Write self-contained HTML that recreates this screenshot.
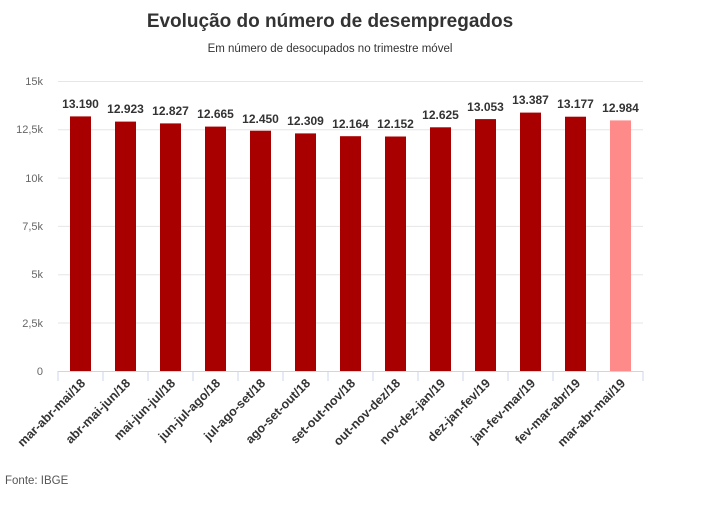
<!DOCTYPE html>
<html><head><meta charset="utf-8"><style>
body{margin:0;background:#fff;width:702px;height:506px;overflow:hidden;font-family:"Liberation Sans","DejaVu Sans",sans-serif}
</style></head><body>
<svg width="702" height="506" xmlns="http://www.w3.org/2000/svg" font-family="Liberation Sans, DejaVu Sans, sans-serif">
<text x="330" y="27" text-anchor="middle" font-size="19" font-weight="bold" fill="#333">Evolução do número de desempregados</text>
<text x="330" y="52" text-anchor="middle" font-size="11.5" fill="#333">Em número de desocupados no trimestre móvel</text>
<g stroke="#e6e6e6" stroke-width="1">
<line x1="58" x2="643" y1="81.5" y2="81.5"/><line x1="58" x2="643" y1="129.8" y2="129.8"/>
<line x1="58" x2="643" y1="178.1" y2="178.1"/><line x1="58" x2="643" y1="226.4" y2="226.4"/>
<line x1="58" x2="643" y1="274.7" y2="274.7"/><line x1="58" x2="643" y1="323" y2="323"/>
</g>
<g font-size="11" fill="#666" text-anchor="end">
<text x="43" y="85">15k</text><text x="43" y="133">12,5k</text><text x="43" y="182">10k</text>
<text x="43" y="230">7,5k</text><text x="43" y="278">5k</text><text x="43" y="327">2,5k</text><text x="43" y="375">0</text>
</g>
<g fill="#a80000">
<rect x="70" y="116.4" width="21" height="254.6"/>
<rect x="115" y="121.6" width="21" height="249.4"/>
<rect x="160" y="123.4" width="21" height="247.6"/>
<rect x="205" y="126.6" width="21" height="244.4"/>
<rect x="250" y="130.7" width="21" height="240.3"/>
<rect x="295" y="133.4" width="21" height="237.6"/>
<rect x="340" y="136.2" width="21" height="234.8"/>
<rect x="385" y="136.5" width="21" height="234.5"/>
<rect x="430" y="127.3" width="21" height="243.7"/>
<rect x="475" y="119.1" width="21" height="251.9"/>
<rect x="520" y="112.6" width="21" height="258.4"/>
<rect x="565" y="116.7" width="21" height="254.3"/>
<rect x="610" y="120.4" width="21" height="250.6" fill="#ff8a8a"/>
</g>
<g font-size="12" font-weight="bold" fill="#333" text-anchor="middle">
<text x="80.5" y="108">13.190</text>
<text x="125.5" y="113">12.923</text>
<text x="170.5" y="115">12.827</text>
<text x="215.5" y="118">12.665</text>
<text x="260.5" y="123">12.450</text>
<text x="305.5" y="125">12.309</text>
<text x="350.5" y="128">12.164</text>
<text x="395.5" y="128">12.152</text>
<text x="440.5" y="119">12.625</text>
<text x="485.5" y="111">13.053</text>
<text x="530.5" y="104">13.387</text>
<text x="575.5" y="108">13.177</text>
<text x="620.5" y="112">12.984</text>
</g>
<line x1="58" x2="643" y1="371.5" y2="371.5" stroke="#ccd6eb"/>
<g stroke="#ccd6eb">
<line x1="58" x2="58" y1="371" y2="381"/><line x1="103" x2="103" y1="371" y2="381"/><line x1="148" x2="148" y1="371" y2="381"/><line x1="193" x2="193" y1="371" y2="381"/><line x1="238" x2="238" y1="371" y2="381"/><line x1="283" x2="283" y1="371" y2="381"/><line x1="328" x2="328" y1="371" y2="381"/><line x1="373" x2="373" y1="371" y2="381"/><line x1="418" x2="418" y1="371" y2="381"/><line x1="463" x2="463" y1="371" y2="381"/><line x1="508" x2="508" y1="371" y2="381"/><line x1="553" x2="553" y1="371" y2="381"/><line x1="598" x2="598" y1="371" y2="381"/><line x1="643" x2="643" y1="371" y2="381"/>
</g>
<g font-size="12.5" font-weight="bold" fill="#333" text-anchor="end">
<text transform="translate(86,384) rotate(-45)">mar-abr-mai/18</text>
<text transform="translate(131,384) rotate(-45)">abr-mai-jun/18</text>
<text transform="translate(176,384) rotate(-45)">mai-jun-jul/18</text>
<text transform="translate(221,384) rotate(-45)">jun-jul-ago/18</text>
<text transform="translate(266,384) rotate(-45)">jul-ago-set/18</text>
<text transform="translate(311,384) rotate(-45)">ago-set-out/18</text>
<text transform="translate(356,384) rotate(-45)">set-out-nov/18</text>
<text transform="translate(401,384) rotate(-45)">out-nov-dez/18</text>
<text transform="translate(446,384) rotate(-45)">nov-dez-jan/19</text>
<text transform="translate(491,384) rotate(-45)">dez-jan-fev/19</text>
<text transform="translate(536,384) rotate(-45)">jan-fev-mar/19</text>
<text transform="translate(581,384) rotate(-45)">fev-mar-abr/19</text>
<text transform="translate(626,384) rotate(-45)">mar-abr-mai/19</text>
</g>
<text x="5" y="484" font-size="11.5" fill="#555">Fonte: IBGE</text>
</svg>
</body></html>
